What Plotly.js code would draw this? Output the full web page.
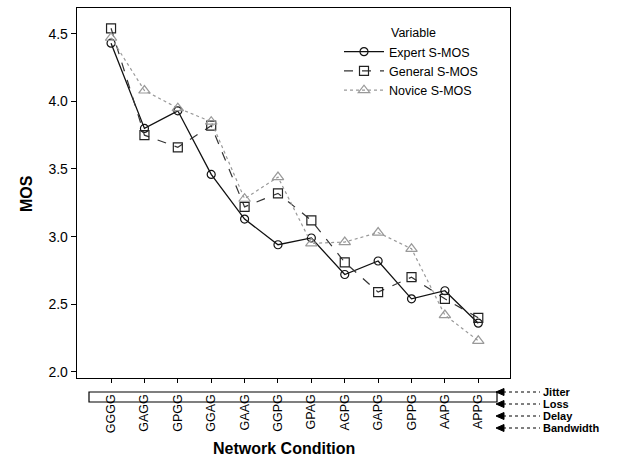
<!DOCTYPE html>
<html>
<head>
<meta charset="utf-8">
<script src="https://cdn.plot.ly/plotly-3.0.1.min.js"></script>
<style>html,body{margin:0;padding:0;background:#fff;}#chart{width:630px;height:459px;}</style>
</head>
<body>
<div id="chart"></div>
<script>
const categories = ["GGGG","GAGG","GPGG","GGAG","GAAG","GGPG","GPAG","AGPG","GAPG","GPPG","AAPG","APPG"];
const expertMOS  = [4.43,3.80,3.93,3.46,3.13,2.94,2.99,2.72,2.82,2.54,2.60,2.36];
const generalMOS = [4.54,3.75,3.66,3.82,3.22,3.32,3.12,2.81,2.59,2.70,2.54,2.40];
const noviceMOS  = [4.47,4.08,3.95,3.85,3.28,3.44,2.95,2.96,3.03,2.91,2.42,2.23];
const seriesNames = ["Expert S-MOS","General S-MOS","Novice S-MOS"];
const yTicks = [2.0,2.5,3.0,3.5,4.0,4.5];
const factorLabels = ["Jitter","Loss","Delay","Bandwidth"];

const FONT = "Liberation Sans, Arial, sans-serif";
const L = 77, R = 510, T = 8, B = 378;
const W = 630, H = 459;
const px = x => (x - L) / (R - L);
const py = y => (B - y) / (B - T);

const idx = categories.map((c,i)=>i);
const traces = [
  {x: idx, y: expertMOS, name: seriesNames[0], mode: "lines+markers",
   line: {color: "#111", width: 1.3, dash: "solid"},
   marker: {symbol: "circle-open", size: 8, color: "#111", line: {width: 1.2}}},
  {x: idx, y: generalMOS, name: seriesNames[1], mode: "lines+markers",
   line: {color: "#333", width: 1.2, dash: "dash"},
   marker: {symbol: "square-open", size: 9, color: "#222", line: {width: 1.2}}},
  {x: idx, y: noviceMOS, name: seriesNames[2], mode: "lines+markers",
   line: {color: "#999", width: 1.2, dash: "dot"},
   marker: {symbol: "triangle-up-open", size: 10, color: "#999", line: {width: 1.2}}}
];

const shapes = [
  {type: "rect", xref: "paper", yref: "paper", x0: px(89), x1: px(497), y0: py(402), y1: py(392),
   line: {color: "#000", width: 1.2}, fillcolor: "rgba(0,0,0,0)"}
];
const annotations = [
  {text: "<b>MOS</b>", xref: "paper", yref: "paper", x: px(26), y: py(194), textangle: -90,
   xanchor: "center", yanchor: "middle",
   showarrow: false, font: {family: FONT, size: 16, color: "#000"}},
  {text: "<b>Network Condition</b>", xref: "paper", yref: "paper", x: px(284), y: py(448),
   xanchor: "center", yanchor: "middle",
   showarrow: false, font: {family: FONT, size: 16, color: "#000"}},
  {text: "Variable", xref: "paper", yref: "paper", x: px(389), y: py(33), xanchor: "left", yanchor: "middle",
   showarrow: false, font: {family: FONT, size: 12.5, color: "#000"}}
];
const factorY = [392, 404, 416, 428];
factorLabels.forEach((lab, i) => {
  const yy = factorY[i];
  shapes.push({type: "line", xref: "paper", yref: "paper", x0: px(503), x1: px(540), y0: py(yy), y1: py(yy),
    line: {color: "#000", width: 1, dash: "dot"}});
  shapes.push({type: "path", xref: "paper", yref: "paper",
    path: `M ${px(496)} ${py(yy)} L ${px(504)} ${py(yy-3.5)} L ${px(504)} ${py(yy+3.5)} Z`,
    fillcolor: "#000", line: {color: "#000", width: 1}});
  annotations.push({text: "<b>" + lab + "</b>", xref: "paper", yref: "paper", x: px(542), y: py(yy),
    xanchor: "left", yanchor: "middle", showarrow: false, borderpad: 0,
    font: {family: FONT, size: 11, color: "#000"}});
});

const layout = {
  width: W, height: H,
  margin: {l: L, r: W - R, t: T, b: H - B},
  paper_bgcolor: "#fff", plot_bgcolor: "#fff",
  font: {family: FONT, color: "#000"},
  showlegend: true,
  legend: {x: px(339), y: py(37), xanchor: "left", yanchor: "top", bgcolor: "rgba(0,0,0,0)",
    font: {family: FONT, size: 12.5, color: "#000"}, tracegroupgap: 0, itemwidth: 40},
  xaxis: {range: [-1.02, 11.95], tickmode: "array", tickvals: idx, ticktext: categories,
    tickangle: -90, ticks: "outside", ticklen: 4, tickcolor: "#000", showgrid: false, zeroline: false,
    showline: true, linecolor: "#000", linewidth: 1.3, mirror: true, ticklabelstandoff: 6,
    tickfont: {family: FONT, size: 12.5, color: "#000"}},
  yaxis: {range: [1.955, 4.69], tickmode: "array", tickvals: yTicks, ticktext: yTicks.map(v=>v.toFixed(1)),
    ticks: "outside", ticklen: 5, tickcolor: "#000", showgrid: false, zeroline: false,
    showline: true, linecolor: "#000", linewidth: 1.3, mirror: true,
    tickfont: {family: FONT, size: 14, color: "#000"}},
  shapes: shapes,
  annotations: annotations
};
Plotly.newPlot("chart", traces, layout, {displayModeBar: false, staticPlot: true});
</script>
</body>
</html>
